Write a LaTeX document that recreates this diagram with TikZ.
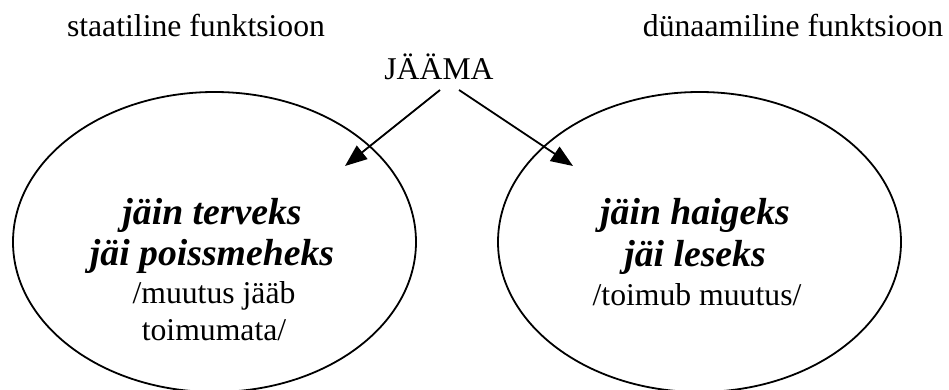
\documentclass[tikz,border=0pt]{standalone}
\usepackage{fontspec}
\setmainfont{Liberation Serif}
\usetikzlibrary{arrows.meta,shapes.geometric}

\tikzset{
  plain/.style={inner sep=0pt, anchor=base, font=\fontsize{31.7pt}{36pt}\selectfont},
  example/.style={inner sep=0pt, anchor=base, font=\fontsize{37.7pt}{42pt}\selectfont\bfseries\itshape},
  oval/.style={draw, line width=1.8pt, ellipse, inner sep=0pt, minimum width=403pt, minimum height=300pt},
  link/.style={line width=1.8pt, -{Triangle[length=22pt, width=17pt]}}
}

\begin{document}
\begin{tikzpicture}[x=1pt, y=1pt]
  \useasboundingbox (0,0) rectangle (949,390);

  % headings
  \node[plain] (stat) at (196,353) {staatiline funktsioon};
  \node[plain] (dyn)  at (793,353) {dünaamiline funktsioon};
  \node[plain] (jaama) at (439,310) {JÄÄMA};

  % the two ovals
  \node[oval] (left)  at (214.5,148) {};
  \node[oval] (right) at (699.5,148) {};

  % left oval content
  \node[example] (l1) at (212,165) {jäin terveks};
  \node[example] (l2) at (212,124) {jäi poissmeheks};
  \node[plain]   (l3) at (214,86)  {/muutus jääb};
  \node[plain]   (l4) at (214,49)  {toimumata/};

  % right oval content
  \node[example] (r1) at (695,165) {jäin haigeks};
  \node[example] (r2) at (695,123) {jäi leseks};
  \node[plain]   (r3) at (697,84)  {/toimub muutus/};

  % arrows
  \coordinate (ls) at (440,300);
  \coordinate (le) at (345,224);
  \coordinate (rs) at (459,300);
  \coordinate (re) at (573,224);
  \draw[link] (ls) -- (le);
  \draw[link] (rs) -- (re);
\end{tikzpicture}
\end{document}
